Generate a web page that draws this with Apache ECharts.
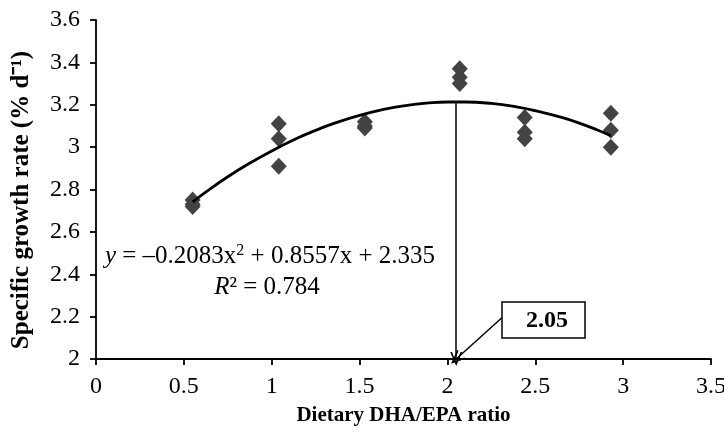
<!DOCTYPE html>
<html>
<head>
<meta charset="utf-8">
<script src="https://cdn.jsdelivr.net/npm/echarts@6/dist/echarts.min.js"></script>
<style>
  html, body { margin: 0; padding: 0; background: #fff; }
  #chart { width: 724px; height: 432px; }
</style>
</head>
<body>
<div id="chart"></div>
<script>
// measured growth per diet (3 replicates each)
const ratioX = [0.55, 0.55, 0.55, 1.04, 1.04, 1.04, 1.53, 1.53, 1.53,
                2.07, 2.07, 2.07, 2.44, 2.44, 2.44, 2.93, 2.93, 2.93];
const growthY = [2.75, 2.73, 2.72, 3.11, 3.04, 2.91, 3.12, 3.10, 3.09,
                 3.37, 3.33, 3.30, 3.14, 3.07, 3.04, 3.16, 3.08, 3.00];

// quadratic trend line points
const trendX = [0.55, 0.65, 0.75, 0.85, 1.0, 1.15, 1.25, 1.35, 1.5, 1.65, 1.75,
                1.9, 2.0, 2.1, 2.25, 2.4, 2.5, 2.65, 2.75, 2.85, 2.93];
const trendY = [2.742, 2.803, 2.860, 2.912, 2.982, 3.044, 3.079, 3.111, 3.150, 3.180, 3.195,
                3.209, 3.213, 3.213, 3.206, 3.189, 3.172, 3.140, 3.113, 3.082, 3.054];

// optimum ratio
const optX = 2.05;
const optY = 3.214;
const optLabel = '2.05';

const serif = '"Liberation Serif", "Times New Roman", serif';
// open V arrow head, tip at top
const vArrow = 'path://M5,0 L10,12 L8.6,12 L5,3.4 L1.4,12 L0,12 Z';

const chart = echarts.init(document.getElementById('chart'));

const option = {
  backgroundColor: '#fff',
  animation: false,
  grid: { left: 96, right: 13, top: 20, bottom: 73, containLabel: false, outerBoundsMode: 'none' },
  xAxis: {
    type: 'value',
    min: 0, max: 3.5, interval: 0.5,
    name: 'Dietary DHA/EPA ratio',
    nameLocation: 'middle',
    nameGap: 46,
    nameTextStyle: { fontFamily: serif, fontSize: 21, fontWeight: 'bold', color: '#000' },
    axisLine: { lineStyle: { color: '#000', width: 1.8 } },
    axisTick: { length: 6, lineStyle: { color: '#000', width: 1.8 } },
    axisLabel: { fontFamily: serif, fontSize: 24, color: '#000', margin: 16 },
    splitLine: { show: false }
  },
  yAxis: {
    type: 'value',
    min: 2, max: 3.6, interval: 0.2,
    axisLine: { lineStyle: { color: '#000', width: 1.8 } },
    axisTick: { length: 6, lineStyle: { color: '#000', width: 1.8 } },
    axisLabel: { fontFamily: serif, fontSize: 24, color: '#000', margin: 16 },
    splitLine: { show: false }
  },
  series: [
    {
      type: 'scatter',
      data: ratioX.map((x, i) => [x, growthY[i]]),
      symbol: 'diamond',
      symbolSize: [16, 17],
      itemStyle: { color: '#434343', opacity: 1 },
      z: 3
    },
    {
      type: 'line',
      data: trendX.map((x, i) => [x, trendY[i]]),
      smooth: true,
      showSymbol: false,
      lineStyle: { color: '#000', width: 2.8 },
      z: 4,
      markLine: {
        silent: true,
        symbol: ['none', vArrow],
        symbolSize: [12, 14],
        label: { show: false },
        lineStyle: { color: '#000', width: 1.5, type: 'solid' },
        data: [
          [{ coord: [optX, optY] }, { coord: [optX, 2] }],
          [{ coord: [2.31, 2.195] }, { coord: [optX, 2] }]
        ]
      }
    }
  ],
  graphic: [
    {
      type: 'text',
      x: 22, y: 200,
      rotation: Math.PI / 2,
      style: {
        text: 'Specific growth rate (% d⁻¹)',
        fontFamily: serif, fontSize: 25, fontWeight: 'bold', fill: '#000',
        align: 'center', verticalAlign: 'middle'
      }
    },
    {
      type: 'text',
      x: 270, y: 256,
      style: {
        text: '{i|y} = –0.2083x{s|2} + 0.8557x + 2.335',
        fontFamily: serif, fontSize: 25, fill: '#000',
        align: 'center', verticalAlign: 'middle',
        rich: {
          i: { fontFamily: serif, fontSize: 25, fontStyle: 'italic' },
          s: { fontFamily: serif, fontSize: 16, verticalAlign: 'top', padding: [0, 0, 10, 0] }
        }
      }
    },
    {
      type: 'text',
      x: 267, y: 287,
      style: {
        text: '{i|R}² = 0.784',
        fontFamily: serif, fontSize: 25, fill: '#000',
        align: 'center', verticalAlign: 'middle',
        rich: { i: { fontFamily: serif, fontSize: 25, fontStyle: 'italic' } }
      }
    },
    {
      type: 'rect',
      shape: { x: 502, y: 302, width: 83, height: 36 },
      style: { fill: '#fff', stroke: '#000', lineWidth: 1.5 }
    },
    {
      type: 'text',
      x: 547, y: 321,
      style: {
        text: optLabel,
        fontFamily: serif, fontSize: 24, fontWeight: 'bold', fill: '#000',
        align: 'center', verticalAlign: 'middle'
      }
    }
  ]
};

chart.setOption(option);
</script>
</body>
</html>
